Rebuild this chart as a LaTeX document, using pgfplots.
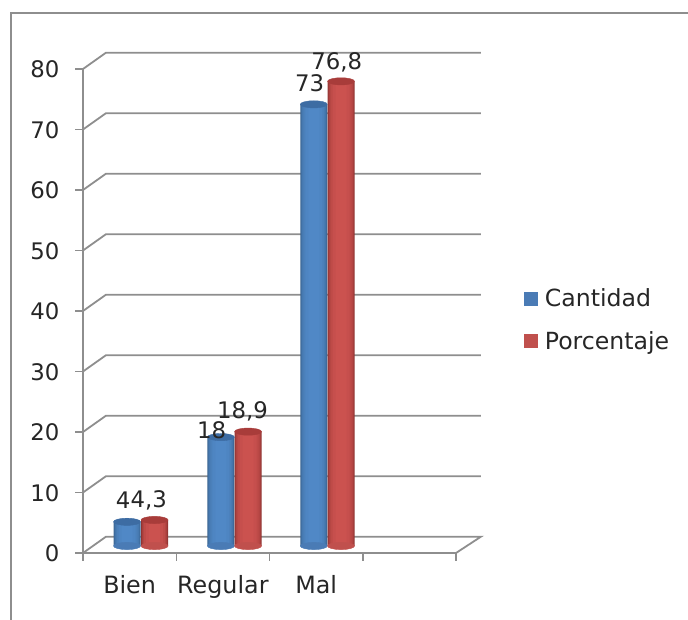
\documentclass[border=0pt]{standalone}
\usepackage{fontspec}
\setmainfont{DejaVu Sans}
\usepackage{pgfplots}
\usepackage{pgfplotstable}
\pgfplotsset{compat=1.18}
\definecolor{gridc}{HTML}{8E8E8E}
\definecolor{txt}{HTML}{262626}
\definecolor{bD}{HTML}{38628F}
\definecolor{bM}{HTML}{5088C6}
\definecolor{bT}{HTML}{3D6CA3}
\definecolor{bL}{HTML}{4A7BB5}
\definecolor{rD}{HTML}{8F3230}
\definecolor{rM}{HTML}{CB524F}
\definecolor{rT}{HTML}{A83C3A}
\definecolor{rL}{HTML}{C0504D}
\newcommand{\fnt}{\fontsize{22.8}{27}\selectfont}
\newcommand{\xfnt}{\fontsize{23.8}{28}\selectfont}
\newcommand{\lfnt}{\fontsize{23.6}{28}\selectfont}
\pgfdeclareplotmark{topB}{\fill[bT] (0,0) ellipse (13.5pt and 3.6pt);}
\pgfdeclareplotmark{topR}{\fill[rT] (0,0) ellipse (13.5pt and 3.6pt);}
\pgfdeclareplotmark{botB}{\fill[bL] (0,0) ellipse (13.5pt and 3.6pt);}
\pgfdeclareplotmark{botR}{\fill[rL] (0,0) ellipse (13.5pt and 3.6pt);}
\pgfplotstableread{
x y
0.472 4
1.479 18
2.475 73
}\cantidad
\pgfplotstableread{
x y
0.767 4.3
1.770 18.9
2.767 76.8
}\porcentaje
\newcommand{\cyl}[4]{\addplot[ybar, bar width=#2pt, bar shift=0pt, draw=none, fill=#3!#4, forget plot] table[x=x,y=y] {#1};}
\begin{document}
\begin{tikzpicture}[x=1pt,y=1pt]
\useasboundingbox (0,0) rectangle (688,620);
% frame, walls, ticks
\begin{axis}[
  at={(83pt,67pt)}, anchor=south west, scale only axis,
  width=373pt, height=484pt,
  xmin=0, xmax=4, ymin=0, ymax=80,
  clip=false,
  axis lines=left,
  axis line style={-, draw=gridc, line width=1.8pt},
  tick style={draw=gridc, line width=1.5pt},
  tick align=outside, major tick length=8pt,
  xtick={0,1,2,3,4}, xticklabels={Bien,{Regular\hspace{19pt}},Mal,{}},
  x tick label as interval,
  ytick={0,10,...,80},
  xticklabel style={font=\xfnt, text=txt, yshift=-11pt},
  yticklabel style={font=\fnt, text=txt, xshift=-12pt, yshift=-0.5pt},
  /pgf/number format/assume math mode=true,
]
\addplot[gridc, line width=1.8pt, forget plot] coordinates {(-0.772,-11.07) (-0.772,89.26) (6.488,89.26)};
\addplot[gridc, line width=1.8pt, forget plot] coordinates {(0,0) (0.247,2.7) (4.268,2.7) (4,0)};
\addplot[gridc, line width=1.8pt, forget plot] coordinates {(0,10) (0.247,12.7) (4.268,12.7)};
\addplot[gridc, line width=1.8pt, forget plot] coordinates {(0,20) (0.247,22.7) (4.268,22.7)};
\addplot[gridc, line width=1.8pt, forget plot] coordinates {(0,30) (0.247,32.7) (4.268,32.7)};
\addplot[gridc, line width=1.8pt, forget plot] coordinates {(0,40) (0.247,42.7) (4.268,42.7)};
\addplot[gridc, line width=1.8pt, forget plot] coordinates {(0,50) (0.247,52.7) (4.268,52.7)};
\addplot[gridc, line width=1.8pt, forget plot] coordinates {(0,60) (0.247,62.7) (4.268,62.7)};
\addplot[gridc, line width=1.8pt, forget plot] coordinates {(0,70) (0.247,72.7) (4.268,72.7)};
\addplot[gridc, line width=1.8pt, forget plot] coordinates {(0,80) (0.247,82.7) (4.268,82.7)};
\end{axis}
% bars
\begin{axis}[
  at={(83pt,74pt)}, anchor=south west, scale only axis,
  width=373pt, height=484pt,
  xmin=0, xmax=4, ymin=0, ymax=80,
  clip=false, axis lines=none,
  legend style={draw=none, fill=none, font=\lfnt, text=txt,
    at={(1.175,0.467)}, anchor=west, row sep=19pt},
  legend cell align=left,
]
\addlegendimage{legend image code/.code={\fill[bL] (0pt,-6.5pt) rectangle (13pt,6.5pt); \path (18pt,0pt);}}
\addlegendentry{Cantidad}
\addlegendimage{legend image code/.code={\fill[rL] (0pt,-6.5pt) rectangle (13pt,6.5pt); \path (18pt,0pt);}}
\addlegendentry{Porcentaje}
% Cantidad
\addplot[only marks, mark=botB, forget plot] table[x=x,y expr=0] {\cantidad};
\cyl{\cantidad}{27}{bM}{0!bD}
\cyl{\cantidad}{25.5}{bM}{35!bD}
\cyl{\cantidad}{23.5}{bM}{60!bD}
\cyl{\cantidad}{21}{bM}{78!bD}
\cyl{\cantidad}{17}{bM}{92!bD}
\cyl{\cantidad}{11}{bM}{100!bD}
\addplot[only marks, mark=topB, forget plot] table[x=x,y=y] {\cantidad};
% Porcentaje
\addplot[only marks, mark=botR, forget plot] table[x=x,y expr=0] {\porcentaje};
\cyl{\porcentaje}{27}{rM}{0!rD}
\cyl{\porcentaje}{25.5}{rM}{35!rD}
\cyl{\porcentaje}{23.5}{rM}{60!rD}
\cyl{\porcentaje}{21}{rM}{78!rD}
\cyl{\porcentaje}{17}{rM}{92!rD}
\cyl{\porcentaje}{11}{rM}{100!rD}
\addplot[only marks, mark=topR, forget plot] table[x=x,y=y] {\porcentaje};
\end{axis}
% data labels, above the bars
\begin{axis}[
  at={(83pt,74pt)}, anchor=south west, scale only axis,
  width=373pt, height=484pt,
  xmin=0, xmax=4, ymin=0, ymax=80,
  clip=false, axis lines=none,
]
\node[font=\fnt, text=txt, inner sep=0pt] at (axis cs:0.43,7.6) {4};
\node[font=\fnt, text=txt, inner sep=0pt] at (axis cs:0.705,7.6) {4,3};
\node[font=\fnt, text=txt, inner sep=0pt] at (axis cs:1.38,19.1) {18};
\node[font=\fnt, text=txt, inner sep=0pt] at (axis cs:1.71,22.2) {18,9};
\node[font=\fnt, text=txt, inner sep=0pt] at (axis cs:2.43,76.5) {73};
\node[font=\fnt, text=txt, inner sep=0pt] at (axis cs:2.72,80) {76,8};
\end{axis}
\end{tikzpicture}
\end{document}
